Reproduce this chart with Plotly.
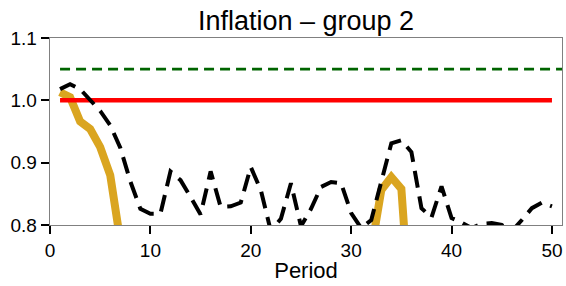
import plotly.graph_objects as go

# ---- data ----
periods = list(range(1, 51))

inflation_gold = [1.013, 1.005, 0.966, 0.954, 0.925, 0.880, 0.775, 0.72, 0.68, 0.66,
                  0.64, 0.63, 0.62, 0.61, 0.61, 0.62, 0.63, 0.62, 0.61, 0.60,
                  0.61, 0.62, 0.63, 0.64, 0.63, 0.62, 0.64, 0.66, 0.67, 0.69,
                  0.71, 0.76, 0.856, 0.877, 0.858, 0.63, 0.61, 0.60, 0.60, 0.61,
                  0.62, 0.61, 0.60, 0.61, 0.62, 0.63, 0.62, 0.61, 0.60, 0.61]

inflation_black = [1.018, 1.026, 1.018, 1.000, 0.983, 0.960, 0.924, 0.870, 0.826, 0.818,
                   0.818, 0.886, 0.872, 0.845, 0.817, 0.886, 0.829, 0.830, 0.836, 0.893,
                   0.856, 0.790, 0.810, 0.867, 0.798, 0.826, 0.861, 0.869, 0.867, 0.819,
                   0.795, 0.808, 0.869, 0.931, 0.936, 0.917, 0.827, 0.812, 0.862, 0.811,
                   0.804, 0.795, 0.802, 0.803, 0.800, 0.790, 0.808, 0.827, 0.836, 0.830]

steady_state = [1.0] * len(periods)

target_x = [1, 51]
target_value = [1.05, 1.05]

title_text = "Inflation – group 2"
x_label = "Period"
x_ticks = [0, 10, 20, 30, 40, 50]
y_ticks = [0.8, 0.9, 1.0, 1.1]
y_tick_labels = ["0.8", "0.9", "1.0", "1.1"]

FONT = "Liberation Sans, Arial, Helvetica, sans-serif"

fig = go.Figure()
fig.add_trace(go.Scatter(x=periods, y=inflation_gold, mode="lines",
                         line=dict(color="#DAA520", width=8), showlegend=False))
fig.add_trace(go.Scatter(x=periods, y=steady_state, mode="lines",
                         line=dict(color="#FF0000", width=4.5), showlegend=False))
fig.add_trace(go.Scatter(x=periods, y=inflation_black, mode="lines",
                         line=dict(color="#000000", width=4, dash="17px,9px"),
                         showlegend=False))
fig.add_trace(go.Scatter(x=target_x, y=target_value, mode="lines",
                         line=dict(color="#006400", width=2.6, dash="10px,6px"),
                         showlegend=False))

fig.update_layout(
    width=566, height=286,
    margin=dict(l=50, r=4, t=38, b=61),
    paper_bgcolor="white", plot_bgcolor="white",
    font=dict(family=FONT, color="black", size=19),
    title=dict(text=title_text, font=dict(size=27, family=FONT, color="black"),
               x=0.5, xref="paper", xanchor="center",
               y=1 - 21 / 286, yref="container", yanchor="middle"),
    showlegend=False,
)
fig.update_xaxes(range=[0, 51], tickvals=x_ticks, ticks="outside", ticklen=8,
                 tickwidth=2, tickcolor="black", showline=True, linecolor="#808080",
                 linewidth=1.3, mirror=True, showgrid=False, zeroline=False,
                 automargin=False,
                 tickfont=dict(size=19, family=FONT, color="black"),
                 title=dict(text=x_label, font=dict(size=22, family=FONT, color="black"),
                            standoff=2))
fig.update_yaxes(range=[0.8, 1.1], tickvals=y_ticks, ticktext=y_tick_labels,
                 ticks="outside", ticklen=8, tickwidth=2, tickcolor="black",
                 showline=True, linecolor="#808080", linewidth=1.3, mirror=True,
                 showgrid=False, zeroline=False, automargin=False,
                 tickfont=dict(size=19, family=FONT, color="black"))

fig.write_html(
    "out.html",
    config={"displayModeBar": False, "staticPlot": True},
    post_script="document.body.style.margin='0';document.body.style.padding='0';"
                "document.body.style.overflow='hidden';",
)
